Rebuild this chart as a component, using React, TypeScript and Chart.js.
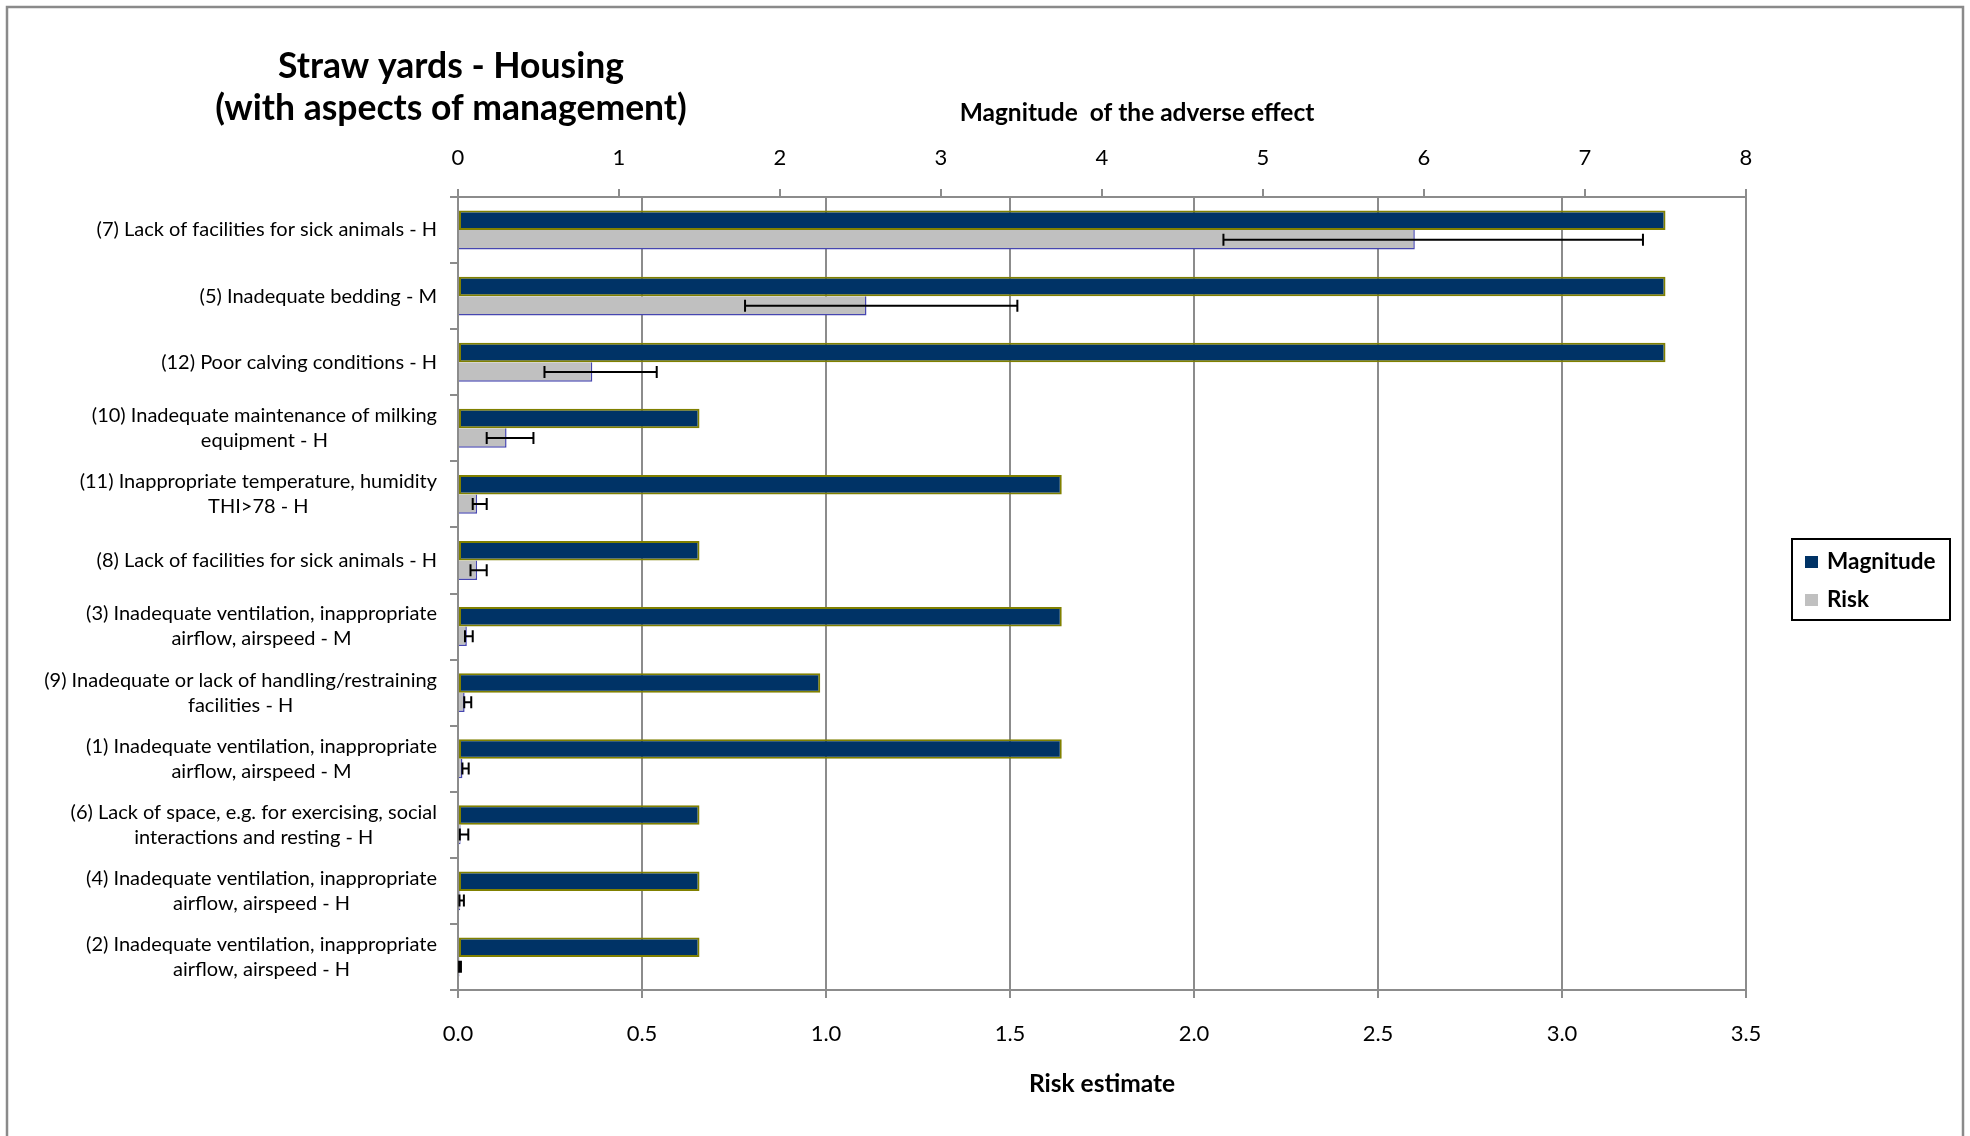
import React, { useEffect, useRef } from 'react';
import { Chart, registerables } from 'chart.js';

Chart.register(...registerables);

const categories: string[][] = [
  ['(7) Lack of facilities for sick animals - H'],
  ['(5) Inadequate bedding - M'],
  ['(12) Poor calving conditions - H'],
  ['(10) Inadequate maintenance of milking', 'equipment - H'],
  ['(11) Inappropriate temperature, humidity', 'THI>78 - H'],
  ['(8) Lack of facilities for sick animals - H'],
  ['(3) Inadequate ventilation, inappropriate', 'airflow, airspeed - M'],
  ['(9) Inadequate or lack of handling/restraining', 'facilities - H'],
  ['(1) Inadequate ventilation, inappropriate', 'airflow, airspeed - M'],
  ['(6) Lack of space, e.g. for exercising, social', 'interactions and resting - H'],
  ['(4) Inadequate ventilation, inappropriate', 'airflow, airspeed - H'],
  ['(2) Inadequate ventilation, inappropriate', 'airflow, airspeed - H'],
];

const magnitude = [7.5, 7.5, 7.5, 1.5, 3.75, 1.5, 3.75, 2.25, 3.75, 1.5, 1.5, 1.5];
const risk = [2.6, 1.11, 0.365, 0.132, 0.052, 0.052, 0.024, 0.018, 0.012, 0.007, 0.006, 0.004];
const riskLow = [2.08, 0.78, 0.235, 0.078, 0.04, 0.034, 0.019, 0.017, 0.012, 0.005, 0.004, 0.003];
const riskHigh = [3.22, 1.52, 0.54, 0.205, 0.078, 0.078, 0.04, 0.036, 0.029, 0.028, 0.016, 0.008];

const titleLines = ['Straw yards - Housing', '(with aspects of management)'];
const topAxisTitle = 'Magnitude  of the adverse effect';
const bottomAxisTitle = 'Risk estimate';
const seriesNames = ['Magnitude', 'Risk'];
const seriesColors = ['#003366', '#C0C0C0'];

const FONT = 'Lato, "Open Sans", sans-serif';
const GRID = '#8c8c8c';
const W = 1970;
const H = 1136;

export default function App() {
  const ref = useRef<HTMLCanvasElement>(null);

  useEffect(() => {
    if (!ref.current) return;

    const errorBars = {
      id: 'errorBars',
      afterDatasetsDraw(chart: any) {
        const meta = chart.getDatasetMeta(1);
        const xs = chart.scales.x;
        const ctx = chart.ctx;
        ctx.save();
        ctx.strokeStyle = '#000';
        ctx.lineWidth = 2;
        meta.data.forEach((el: any, i: number) => {
          const y = el.y;
          const x1 = xs.getPixelForValue(riskLow[i]);
          const x2 = xs.getPixelForValue(riskHigh[i]);
          ctx.beginPath();
          ctx.moveTo(x1, y);
          ctx.lineTo(x2, y);
          ctx.moveTo(x1, y - 6);
          ctx.lineTo(x1, y + 6);
          ctx.moveTo(x2, y - 6);
          ctx.lineTo(x2, y + 6);
          ctx.stroke();
        });
        ctx.restore();
      },
    };

    const decorations = {
      id: 'decorations',
      beforeDraw(chart: any) {
        const ctx = chart.ctx;
        ctx.save();
        ctx.fillStyle = '#fff';
        ctx.fillRect(0, 0, W, H);
        ctx.strokeStyle = '#8a8a8a';
        ctx.lineWidth = 2.5;
        ctx.strokeRect(7, 7, 1956, H + 20);
        ctx.restore();
      },
      afterDraw(chart: any) {
        const ctx = chart.ctx;
        const ys = chart.scales.y;
        const area = chart.chartArea;
        ctx.save();
        ctx.fillStyle = '#000';
        ctx.textBaseline = 'middle';
        ctx.textAlign = 'center';

        // category labels (multi-line, centred within their own block, block right-aligned)
        ctx.font = `20px ${FONT}`;
        const right = ys.right - 21;
        categories.forEach((lines, i) => {
          const cy = ys.getPixelForValue(i);
          const w = Math.max(...lines.map((l) => ctx.measureText(l).width));
          const cx = right - w / 2;
          lines.forEach((l, j) => {
            ctx.fillText(l, cx, cy + (j - (lines.length - 1) / 2) * 25);
          });
        });

        // main title
        ctx.font = `bold 35.5px ${FONT}`;
        ctx.fillText(titleLines[0], 451, 67);
        ctx.fillText(titleLines[1], 451, 109);

        // top axis title
        ctx.font = `bold 24.5px ${FONT}`;
        ctx.fillText(topAxisTitle, (area.left + area.right) / 2 + 35, 113);

        // legend
        ctx.strokeStyle = '#000';
        ctx.lineWidth = 2;
        ctx.strokeRect(1792, 539, 158, 81);
        ctx.font = `bold 22.5px ${FONT}`;
        ctx.textAlign = 'left';
        const rows = [562, 600];
        seriesNames.forEach((name, i) => {
          ctx.fillStyle = seriesColors[i];
          ctx.fillRect(1805, rows[i] - 6, 13, 12);
          ctx.fillStyle = '#000';
          ctx.fillText(name, 1827, rows[i]);
        });
        ctx.restore();
      },
    };

    const chart = new Chart(ref.current, {
      type: 'bar',
      data: {
        labels: categories,
        datasets: [
          {
            label: seriesNames[0],
            data: magnitude,
            xAxisID: 'x2',
            backgroundColor: seriesColors[0],
            borderColor: '#808000',
            borderWidth: 2,
            borderSkipped: false,
            categoryPercentage: 0.59,
            barPercentage: 1,
          },
          {
            label: seriesNames[1],
            data: risk,
            xAxisID: 'x',
            backgroundColor: seriesColors[1],
            borderColor: '#4646B0',
            borderWidth: { top: 0, left: 0, right: 1.5, bottom: 1.5 },
            borderSkipped: false,
            categoryPercentage: 0.59,
            barPercentage: 1,
          },
        ],
      },
      options: {
        indexAxis: 'y',
        animation: false,
        responsive: false,
        layout: { padding: { left: 0, right: 224, top: 0, bottom: 0 } },
        font: { family: FONT },
        plugins: {
          legend: { display: false },
          tooltip: { enabled: false },
          title: { display: false },
        },
        scales: {
          y: {
            type: 'category',
            position: 'left',
            ticks: { display: false },
            grid: {
              drawOnChartArea: false,
              drawTicks: true,
              tickLength: 8,
              color: GRID,
              lineWidth: 2,
              offset: true,
            },
            border: { color: GRID, width: 2 },
            afterFit(s: any) {
              s.width = 458;
            },
          },
          x: {
            type: 'linear',
            position: 'bottom',
            min: 0,
            max: 3.5,
            ticks: {
              stepSize: 0.5,
              callback: (v: any) => Number(v).toFixed(1),
              font: { family: FONT, size: 22 },
              color: '#000',
              padding: 22.8,
            },
            grid: { color: GRID, lineWidth: 2, tickLength: 8 },
            border: { color: GRID, width: 2 },
            title: {
              display: true,
              text: bottomAxisTitle,
              color: '#000',
              font: { family: FONT, size: 24.5, weight: 'bold' },
              padding: { top: 0, bottom: 37.3 },
            },
            afterFit(s: any) {
              s.height = 146;
            },
          },
          x2: {
            type: 'linear',
            position: 'top',
            min: 0,
            max: 8,
            ticks: {
              stepSize: 1,
              font: { family: FONT, size: 22 },
              color: '#000',
              padding: 17.8,
            },
            grid: { drawOnChartArea: false, color: GRID, lineWidth: 2, tickLength: 8 },
            border: { color: GRID, width: 2 },
            afterFit(s: any) {
              s.height = 197;
            },
          },
        },
      } as any,
      plugins: [errorBars, decorations],
    });

    return () => chart.destroy();
  }, []);

  return (
    <div
      style={{
        position: 'fixed',
        left: 0,
        top: 0,
        width: W,
        height: H,
        overflow: 'hidden',
        background: '#fff',
      }}
    >
      <canvas ref={ref} width={W} height={H} style={{ display: 'block', width: W, height: H }} />
    </div>
  );
}
